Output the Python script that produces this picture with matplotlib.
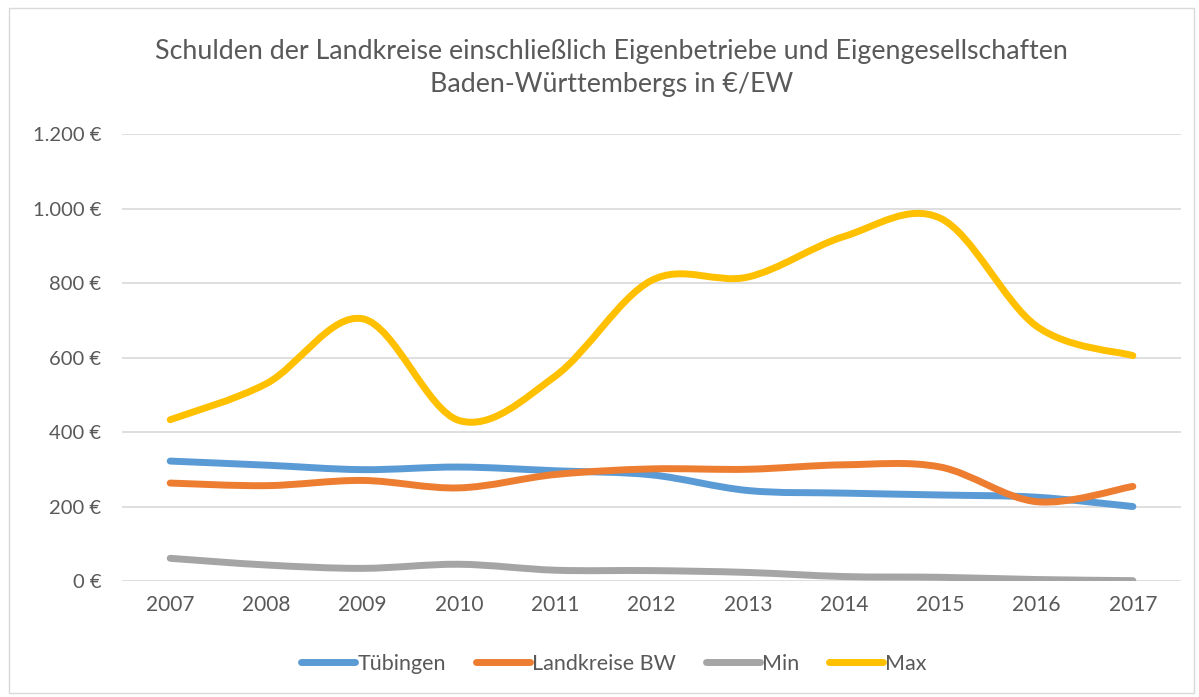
import numpy as np
import matplotlib
matplotlib.use("Agg")
import matplotlib.pyplot as plt
from matplotlib.path import Path
from matplotlib.patches import PathPatch, Rectangle
from matplotlib.lines import Line2D

years = ["2007", "2008", "2009", "2010", "2011", "2012", "2013", "2014", "2015", "2016", "2017"]
tuebingen = [322, 311, 299, 306, 296, 285, 243, 236, 231, 225, 200]
landkreise_bw = [263, 256, 270, 250, 286, 301, 300, 312, 306, 213, 254]
min_vals = [61, 43, 34, 45, 29, 28, 23, 12, 10, 4, 1]
max_vals = [433, 530, 704, 431, 550, 807, 816, 925, 974, 684, 605]

series = [
    ("Tübingen", tuebingen, "#5B9BD5"),
    ("Landkreise BW", landkreise_bw, "#ED7D31"),
    ("Min", min_vals, "#A5A5A5"),
    ("Max", max_vals, "#FFC000"),
]

plt.rcParams["font.family"] = ["Lato", "DejaVu Sans"]
txt = "#595959"


def smooth_path(x, y):
    # Excel-artige geglaettete Linie als Bezier-Pfad durch die Datenpunkte
    p = np.column_stack([x, y]).astype(float)
    ext = np.vstack([p[0], p, p[-1]])
    verts = [p[0]]
    codes = [Path.MOVETO]
    for i in range(len(p) - 1):
        p0, p1, p2, p3 = ext[i], ext[i + 1], ext[i + 2], ext[i + 3]
        c1 = p1 + (p2 - p0) / 6
        c2 = p2 - (p3 - p1) / 6
        verts += [c1, c2, p2]
        codes += [Path.CURVE4] * 3
    return Path(verts, codes)


fig = plt.figure(figsize=(11.99, 6.97), dpi=100)
ax = fig.add_axes([0.1018, 0.1664, 0.8832, 0.6413])

fig.patches.append(Rectangle((9 / 1199, 4 / 697), 1185 / 1199, 685 / 697,
                             transform=fig.transFigure, fill=False,
                             edgecolor="#D9D9D9", linewidth=1))

x = np.arange(len(years))
for name, vals, col in series:
    patch = PathPatch(smooth_path(x, vals), facecolor="none", edgecolor=col,
                      linewidth=5, capstyle="round", joinstyle="round", zorder=3)
    ax.add_patch(patch)

ax.set_xlim(-0.5, len(years) - 0.5)
ax.set_ylim(0, 1200)
ax.set_yticks(range(0, 1201, 200))
ax.set_yticklabels([f"{v:,}".replace(",", ".") + " €" for v in range(0, 1201, 200)])
ax.set_xticks(x)
ax.set_xticklabels(years)
ax.grid(axis="y", color="#D9D9D9", linewidth=1.2)
ax.set_axisbelow(True)
for s in ax.spines.values():
    s.set_visible(False)
ax.tick_params(length=0, colors=txt)
ax.tick_params(axis="y", labelsize=14.5, pad=15)
ax.tick_params(axis="x", labelsize=15, pad=10)

fig.text(0.51, 0.903, "Schulden der Landkreise einschließlich Eigenbetriebe und Eigengesellschaften\nBaden-Württembergs in €/EW",
         ha="center", va="center", fontsize=19.3, color=txt, linespacing=1.4)

handles = [Line2D([], [], color=col, linewidth=5, solid_capstyle="round") for _, _, col in series]
fig.legend(handles, [n for n, _, _ in series], loc="center", bbox_to_anchor=(0.512, 0.048),
           ncol=4, frameon=False, fontsize=15.5, labelcolor=txt, handlelength=2.5,
           handletextpad=0.1, columnspacing=1.4)

fig.savefig("out.png", dpi=100)
